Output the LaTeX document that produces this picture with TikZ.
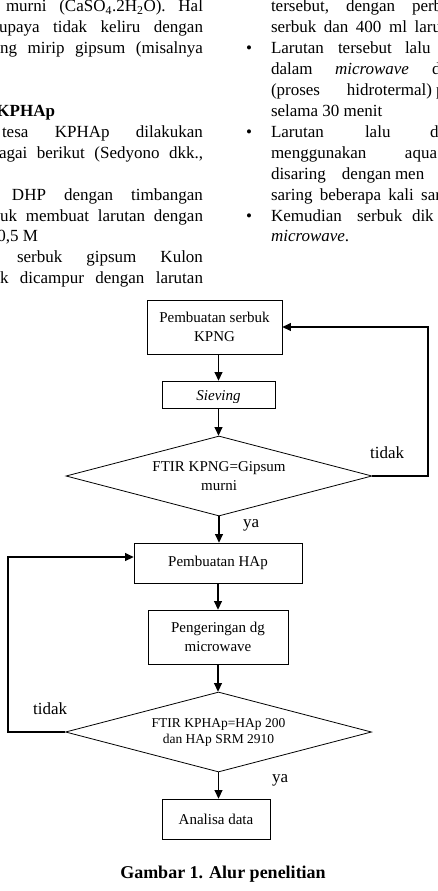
\documentclass[tikz,border=0pt]{standalone}
\usepackage{fontspec}
\setmainfont{Liberation Serif}
\usetikzlibrary{arrows.meta,shapes.geometric}

\tikzset{
  body/.style={font=\fontsize{17}{21}\selectfont, inner sep=0pt, outer sep=0pt, anchor=base west},
  box/.style={draw, line width=0.8pt, inner sep=0pt, align=center, font=\fontsize{15}{18.5}\selectfont},
  dec/.style={draw, diamond, aspect=3.8, line width=0.8pt, inner sep=0pt, align=center,
              minimum width=306pt, minimum height=80pt},
  flow/.style={line width=1.2pt, -{Triangle[length=8.5pt,width=8pt]}},
  tag/.style={font=\fontsize{17}{20}\selectfont, inner sep=0pt, anchor=base west},
}

\begin{document}
\begin{tikzpicture}[x=1pt,y=-1pt]
\useasboundingbox (0,0) rectangle (437,891);
\fill[white] (0,0) rectangle (437,891);
\clip (0,0) rectangle (437,891);

% ---- left column of running text ----
\node[body] (l1) at (6,12) {\makebox[197pt][s]{murni (CaSO\textsubscript{4}.2H\textsubscript{2}O). Hal}};
\node[body] (l2) at (-1,32.9) {\makebox[204pt][s]{upaya tidak keliru dengan}};
\node[body] (l3) at (0,53.8) {\makebox[203pt][s]{ng mirip gipsum (misalnya}};
\node[body, anchor=base east, font=\bfseries\fontsize{17}{21}\selectfont] (l4) at (55,116.5) {KPHAp};
\node[body] (l5) at (2,137.4) {\makebox[201pt][s]{tesa KPHAp dilakukan}};
\node[body] (l6) at (-1,158.3) {\makebox[204pt][s]{agai berikut (Sedyono dkk.,}};
\node[body] (l7) at (12,200.1) {\makebox[191pt][s]{DHP dengan timbangan}};
\node[body] (l8) at (0,221) {\makebox[203pt][s]{uk membuat larutan dengan}};
\node[body, anchor=base east] (l9) at (38,241.9) {0,5 M};
\node[body] (l10) at (17,262.8) {\makebox[186pt][s]{serbuk gipsum Kulon}};
\node[body] (l11) at (0,283.7) {\makebox[203pt][s]{k dicampur dengan larutan}};

% ---- right column of running text ----
\node[body] (r1) at (271,12) {\makebox[75pt][l]{tersebut,}\makebox[66pt][l]{dengan}perb};
\node[body] (r2) at (271,32.9) {\makebox[170pt][s]{serbuk dan 400 ml laru}};
\node[body] (r3b) at (246,53.8) {•};
\node[body] (r3) at (271,53.8) {\makebox[67pt][l]{Larutan}\makebox[67pt][l]{tersebut}lalu};
\node[body] (r4) at (271,74.7) {\makebox[64pt][l]{dalam}\makebox[97pt][l]{\textit{microwave}}d};
\node[body] (r5) at (271,95.6) {\makebox[76pt][l]{(proses}\makebox[89pt][l]{hidrotermal)}p};
\node[body] (r6) at (271,116.5) {selama 30 menit};
\node[body] (r7b) at (246,137.4) {•};
\node[body] (r7) at (271,137.4) {\makebox[94pt][l]{Larutan}\makebox[65pt][l]{lalu}d};
\node[body] (r8) at (271,158.3) {\makebox[134pt][l]{menggunakan}aqua};
\node[body] (r9) at (271,179.2) {\makebox[71pt][l]{disaring}\makebox[53pt][l]{dengan}men};
\node[body] (r10) at (271,200.1) {\makebox[170pt][s]{saring beberapa kali sar}};
\node[body] (r11b) at (246,221) {•};
\node[body] (r11) at (271,221) {\makebox[86pt][l]{Kemudian}\makebox[55pt][l]{serbuk}dik};
\node[body] (r12) at (271,241.9) {\textit{microwave}.};

% ---- flowchart ----
\node[box, minimum width=135pt, minimum height=54pt] (b1) at (214.5,327) {Pembuatan serbuk\\KPNG};
\node[box, minimum width=113pt, minimum height=27pt] (sv) at (218.5,394.5) {};
\begin{scope}
  \clip (162,381) rectangle (275,402);
  \node[font=\fontsize{15}{18}\selectfont\itshape, anchor=base, inner sep=0pt] (svt) at (218.5,400.5) {Sieving};
\end{scope}
\node[dec, font=\fontsize{15}{19}\selectfont] (d1) at (219,476) {FTIR KPNG=Gipsum\\murni};
\node[box, minimum width=168pt, minimum height=40pt] (hap) at (218,563) {Pembuatan HAp};
\node[box, minimum width=140pt, minimum height=54pt] (pg) at (218,637) {Pengeringan dg\\microwave};
\node[dec, font=\fontsize{13.5}{16}\selectfont] (d2) at (218.5,732) {FTIR KPHAp=HAp 200\\dan HAp SRM 2910};
\node[box, minimum width=108pt, minimum height=40pt] (ad) at (216,819) {Analisa data};

\coordinate (t1) at (428,476);
\coordinate (t2) at (8,732);

\draw[flow] (sv.north |- b1.south) -- (sv.north);
\draw[flow] (sv.south) -- (sv.south |- d1.north);
\draw[flow] (d1.east) -- (t1) |- (b1.east);
\draw[flow] (d1.south) -- (d1.south |- hap.north);
\draw[flow] (hap.south) -- (pg.north);
\draw[flow] (pg.south) -- (pg.south |- d2.north);
\draw[flow] (d2.west) -- (t2) |- ([yshift=6pt]hap.west);
\draw[flow] (d2.south) -- (d2.south |- ad.north);

\node[tag] (no1) at (370,458) {tidak};
\node[tag] (yes1) at (243,527) {ya};
\node[tag] (no2) at (33,714) {tidak};
\node[tag] (yes2) at (272,782) {ya};

\node[font=\bfseries\fontsize{18}{22}\selectfont, anchor=base, inner sep=0pt] (cap) at (223,878) {Gambar 1. Alur penelitian};
\end{tikzpicture}
\end{document}
